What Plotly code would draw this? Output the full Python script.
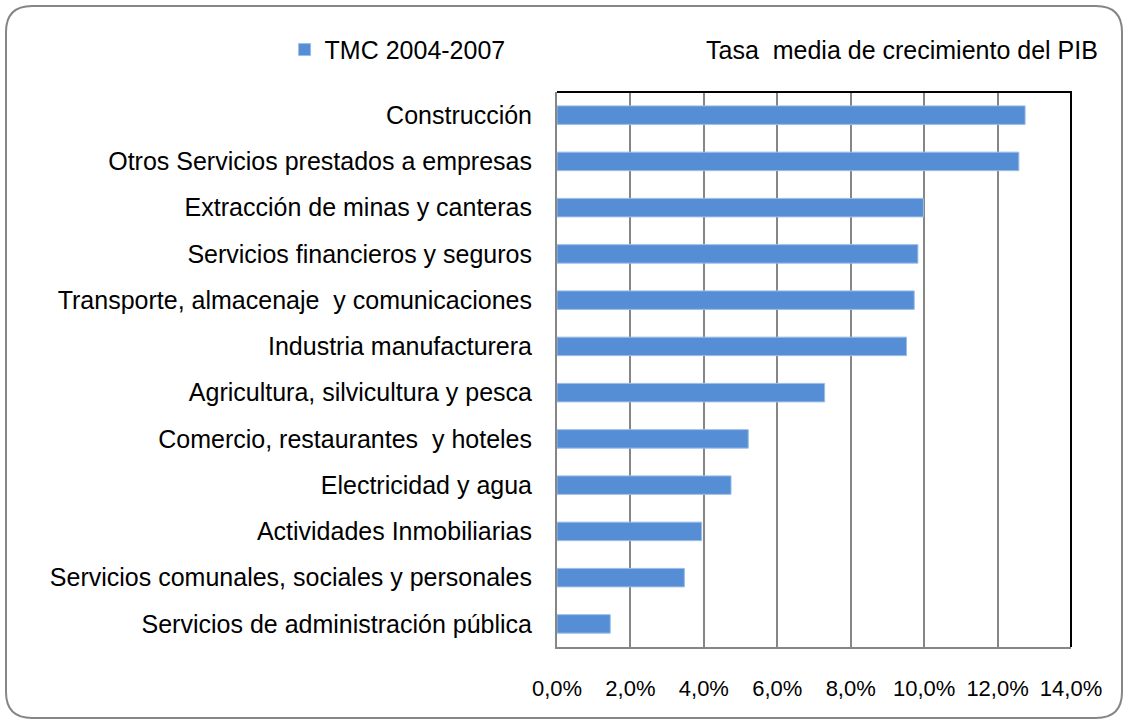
import plotly.graph_objects as go

# Sectores (de arriba hacia abajo) y tasa media de crecimiento 2004-2007 (%)
sectores = [
    "Construcción",
    "Otros Servicios prestados a empresas",
    "Extracción de minas y canteras",
    "Servicios financieros y seguros",
    "Transporte, almacenaje  y comunicaciones",
    "Industria manufacturera",
    "Agricultura, silvicultura y pesca",
    "Comercio, restaurantes  y hoteles",
    "Electricidad y agua",
    "Actividades Inmobiliarias",
    "Servicios comunales, sociales y personales",
    "Servicios de administración pública",
]
tmc = [12.75, 12.58, 9.98, 9.83, 9.73, 9.52, 7.29, 5.21, 4.74, 3.94, 3.47, 1.45]

tick_vals = [0, 2, 4, 6, 8, 10, 12, 14]
tick_text = ["0,0%", "2,0%", "4,0%", "6,0%", "8,0%", "10,0%", "12,0%", "14,0%"]

FONT = "Liberation Sans, Arial, sans-serif"
GRID = "#868686"

fig = go.Figure(
    go.Bar(
        x=tmc,
        y=sectores,
        orientation="h",
        name="TMC 2004-2007",
        marker=dict(color="#558ED5", line=dict(color="#9DBDE8", width=1)),
    )
)

fig.update_layout(
    width=1128,
    height=724,
    margin=dict(l=557, r=57, t=92, b=77),
    paper_bgcolor="white",
    plot_bgcolor="white",
    font=dict(family=FONT, size=24, color="black"),
    bargap=0.6,
    showlegend=True,
    legend=dict(
        x=-0.53, y=1.076, xanchor="left", yanchor="middle",
        font=dict(size=25), itemwidth=30, bgcolor="rgba(0,0,0,0)",
    ),
    annotations=[
        dict(
            text="Tasa  media de crecimiento del PIB",
            xref="paper", yref="paper",
            x=1.056, y=1.076, xanchor="right", yanchor="middle",
            showarrow=False, font=dict(size=25),
        )
    ],
)

fig.update_xaxes(
    range=[0, 14],
    tickvals=tick_vals,
    ticktext=tick_text,
    showgrid=True,
    gridcolor=GRID,
    gridwidth=1.5,
    zeroline=False,
    showline=True,
    linecolor=GRID,
    linewidth=2,
    ticks="",
    ticklabelstandoff=21,
    tickfont=dict(size=22),
    mirror=False,
)
fig.update_yaxes(
    autorange="reversed",
    showgrid=False,
    showline=True,
    linecolor=GRID,
    linewidth=2,
    ticks="",
    ticklabelstandoff=18,
    tickfont=dict(size=25),
)

# borde negro del área de trazado (arriba y derecha)
fig.add_shape(
    type="path", xref="paper", yref="paper",
    path="M 0 1 L 1 1 L 1 0",
    line=dict(color="black", width=2), layer="above",
)

# marco redondeado del gráfico, en píxeles respecto a la esquina inferior izquierda del área
L, R, T, B, rad = -551, 565, 641, -71, 26
frame = (
    f"M {L + rad} {T} L {R - rad} {T} Q {R} {T} {R} {T - rad} "
    f"L {R} {B + rad} Q {R} {B} {R - rad} {B} "
    f"L {L + rad} {B} Q {L} {B} {L} {B + rad} "
    f"L {L} {T - rad} Q {L} {T} {L + rad} {T} Z"
)
fig.add_shape(
    type="path", xref="paper", yref="paper",
    xsizemode="pixel", ysizemode="pixel", xanchor=0, yanchor=0,
    path=frame, line=dict(color="#868686", width=2), layer="below",
)

fig.write_html(
    "out.html",
    config={"displayModeBar": False},
    post_script="document.body.style.margin='0';",
)
